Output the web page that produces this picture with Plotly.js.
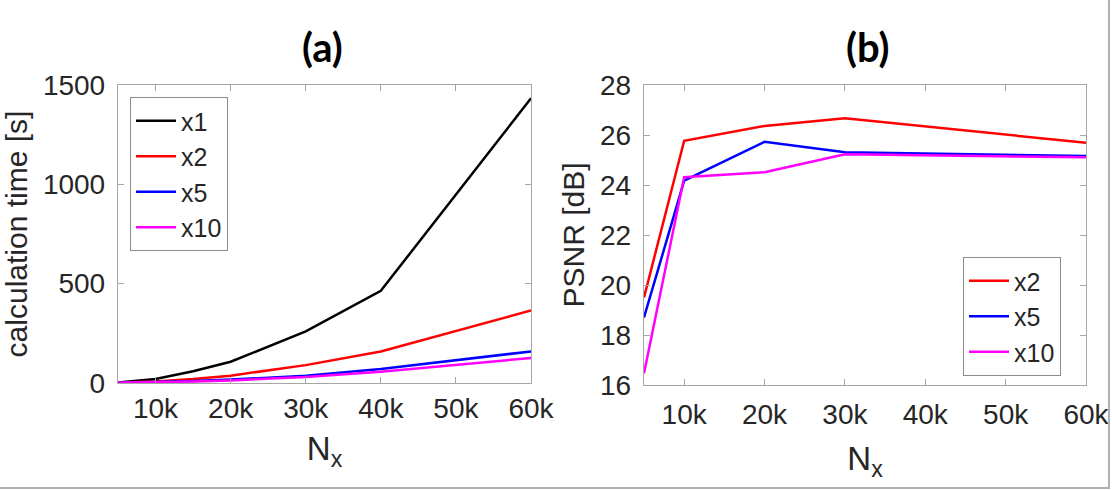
<!DOCTYPE html>
<html>
<head>
<meta charset="utf-8">
<script src="https://cdn.plot.ly/plotly-3.0.1.min.js"></script>
<style>
html,body{margin:0;padding:0;background:#fff;}
#wrap{position:relative;width:1112px;height:490px;}
#chart{width:1112px;height:490px;}
#frame{position:absolute;left:0;top:0;width:1108px;height:487px;border-right:2px solid #b0b0b0;border-bottom:2px solid #b0b0b0;pointer-events:none;}
</style>
</head>
<body>
<div id="wrap"><div id="chart"></div><div id="frame"></div></div>
<script>
// Panel (a): calculation time vs Nx
const nxA = [5000, 10000, 15000, 20000, 30000, 40000, 60000];
const timeX1 = [3, 20, 59, 107, 260, 464, 1433];
const timeX2 = [2, 8, 20, 37, 90, 159, 365];
const timeX5 = [1, 5, 10, 17, 37, 70, 159];
const timeX10 = [1, 3, 8, 13, 30, 57, 126];

// Panel (b): PSNR vs Nx
const nxB = [5000, 10000, 20000, 30000, 60000];
const psnrX2 = [19.5, 25.77, 26.36, 26.67, 25.69];
const psnrX5 = [18.7, 24.17, 25.73, 25.31, 25.16];
const psnrX10 = [16.47, 24.31, 24.51, 25.23, 25.11];

const xTickVals = [10000, 20000, 30000, 40000, 50000, 60000];
const xTickText = ['10k', '20k', '30k', '40k', '50k', '60k'];
const seriesNames = ['x1', 'x2', 'x5', 'x10'];

const colors = {x1: '#000000', x2: '#ff0000', x5: '#0000ff', x10: '#ff00ff'};
const LW = 2.5;
const font = 'Liberation Sans, Arial, sans-serif';
const txt = '#262626';

function line(x, y, name, xa, ya, leg) {
  return {x: x, y: y, name: name, type: 'scatter', mode: 'lines',
    line: {color: colors[name], width: LW}, xaxis: xa, yaxis: ya, legend: leg};
}

const data = [
  line(nxA, timeX1, seriesNames[0], 'x', 'y', 'legend'),
  line(nxA, timeX2, seriesNames[1], 'x', 'y', 'legend'),
  line(nxA, timeX5, seriesNames[2], 'x', 'y', 'legend'),
  line(nxA, timeX10, seriesNames[3], 'x', 'y', 'legend'),
  line(nxB, psnrX2, seriesNames[1], 'x2', 'y2', 'legend2'),
  line(nxB, psnrX5, seriesNames[2], 'x2', 'y2', 'legend2'),
  line(nxB, psnrX10, seriesNames[3], 'x2', 'y2', 'legend2')
];

const axCommon = {
  showgrid: false, zeroline: false, showline: true, mirror: 'ticks',
  linecolor: '#a6a6a6', linewidth: 1.2, ticks: 'inside', ticklen: 6, tickwidth: 1,
  tickcolor: '#a6a6a6', tickfont: {family: font, size: 28, color: txt}
};

const layout = {
  width: 1112, height: 490,
  margin: {l: 0, r: 0, t: 0, b: 0},
  paper_bgcolor: '#fff', plot_bgcolor: '#fff',
  showlegend: true,
  xaxis: Object.assign({}, axCommon, {
    domain: [118/1112, 531/1112], range: [5000, 60000],
    tickvals: xTickVals, ticktext: xTickText, anchor: 'y', ticklabelstandoff: 0,
    title: {text: 'N<sub>x</sub>', font: {family: font, size: 33, color: txt}, standoff: 14}
  }),
  yaxis: Object.assign({}, axCommon, {
    domain: [(490-383)/490, (490-85)/490], range: [0, 1500],
    tickvals: [0, 500, 1000, 1500], anchor: 'x', ticklabelstandoff: 6,
    title: {text: 'calculation time [s]', font: {family: font, size: 30, color: txt}, standoff: 6}
  }),
  xaxis2: Object.assign({}, axCommon, {
    domain: [644/1112, 1086/1112], range: [5000, 60000],
    tickvals: xTickVals, ticktext: xTickText, anchor: 'y2', ticklabelstandoff: 4,
    title: {text: 'N<sub>x</sub>', font: {family: font, size: 33, color: txt}, standoff: 18}
  }),
  yaxis2: Object.assign({}, axCommon, {
    domain: [(490-385)/490, (490-85)/490], range: [16, 28],
    tickvals: [16, 18, 20, 22, 24, 26, 28], anchor: 'x2', ticklabelstandoff: 6,
    title: {text: 'PSNR [dB]', font: {family: font, size: 30, color: txt}, standoff: 6}
  }),
  legend: {
    x: 130/1112, y: (490-97)/490, xanchor: 'left', yanchor: 'top',
    bgcolor: '#fff', bordercolor: '#8c8c8c', borderwidth: 1,
    font: {family: font, size: 25, color: txt}, itemwidth: 40, tracegroupgap: 0
  },
  legend2: {
    x: 963/1112, y: (490-257)/490, xanchor: 'left', yanchor: 'top',
    bgcolor: '#fff', bordercolor: '#8c8c8c', borderwidth: 1,
    font: {family: font, size: 25, color: txt}, itemwidth: 40, tracegroupgap: 0
  },
  annotations: [
    {text: '<b>(a)</b>', xref: 'paper', yref: 'paper', x: 322/1112, y: (490-47)/490,
     xanchor: 'center', yanchor: 'middle', showarrow: false,
     font: {family: 'Lato, Open Sans, sans-serif', size: 40, color: '#000'}},
    {text: '<b>(b)</b>', xref: 'paper', yref: 'paper', x: 868/1112, y: (490-47)/490,
     xanchor: 'center', yanchor: 'middle', showarrow: false,
     font: {family: 'Lato, Open Sans, sans-serif', size: 40, color: '#000'}}
  ]
};

Plotly.newPlot('chart', data, layout, {displayModeBar: false, staticPlot: true});
</script>
</body>
</html>
